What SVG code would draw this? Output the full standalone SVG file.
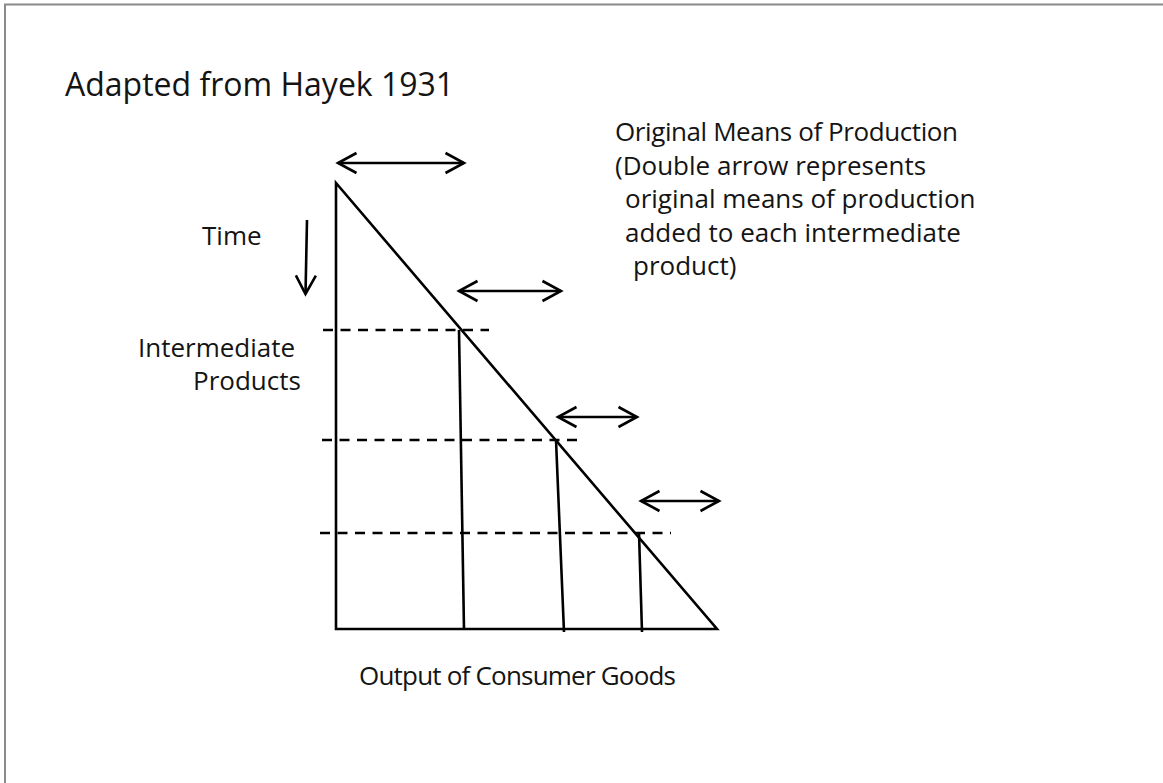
<svg xmlns="http://www.w3.org/2000/svg" width="1163" height="783" viewBox="0 0 1163 783">
  <style>
    .txt { font-family: "Open Sans", "Liberation Sans", sans-serif; fill: #141414; }
    .body { font-size: 26px; }
    .title { font-size: 32px; }
    .ln { stroke: #000; stroke-width: 2.6; fill: none; }
    .dash { stroke: #000; stroke-width: 2.4; fill: none; stroke-dasharray: 10 7.5; }
    .arw { stroke: #000; stroke-width: 2.6; fill: none; marker-start: url(#chev); marker-end: url(#chev); }
    .arw1 { stroke: #000; stroke-width: 2.6; fill: none; marker-end: url(#chev); }
  </style>
  <defs>
    <marker id="chev" markerUnits="userSpaceOnUse" markerWidth="26" markerHeight="26" viewBox="-22 -13 26 26" refX="0" refY="0" orient="auto-start-reverse">
      <path d="M-18.5,-10 L0,0 L-18.5,10" fill="none" stroke="#000" stroke-width="2.6"/>
    </marker>
  </defs>

  <rect x="0" y="0" width="1163" height="783" fill="#fff"/>
  <!-- page frame: top and left edges only -->
  <path d="M5,783 V4.5 H1163" fill="none" stroke="#8a8a8a" stroke-width="2"/>

  <g id="title">
    <text class="txt title" x="65" y="96">Adapted from Hayek 1931</text>
  </g>

  <g id="legend">
    <text class="txt body" x="615" y="141" textLength="343">Original Means of Production</text>
    <text class="txt body" x="615" y="174.5">(Double arrow represents</text>
    <text class="txt body" x="625" y="208">original means of production</text>
    <text class="txt body" x="625" y="241.5">added to each intermediate</text>
    <text class="txt body" x="633" y="275">product)</text>
  </g>

  <g id="time-label">
    <text class="txt body" x="202" y="245">Time</text>
  </g>

  <g id="intermediate-label">
    <text class="txt body" x="138" y="357">Intermediate</text>
    <text class="txt body" x="193" y="390">Products</text>
  </g>

  <g id="output-label">
    <text class="txt body" x="359" y="685" textLength="317">Output of Consumer Goods</text>
  </g>

  <!-- production triangle with stage boundaries -->
  <g id="triangle">
    <path class="ln" d="M336,183 V629 H717 Z" stroke-linejoin="miter"/>
    <line class="ln" x1="459" y1="330" x2="464" y2="630"/>
    <line class="ln" x1="556" y1="440" x2="564" y2="632"/>
    <line class="ln" x1="639" y1="533" x2="642" y2="632"/>
  </g>

  <g id="stage-levels">
    <line class="dash" x1="323" y1="330" x2="489" y2="330"/>
    <line class="dash" x1="322" y1="440" x2="579" y2="440"/>
    <line class="dash" x1="320" y1="533" x2="671" y2="533"/>
  </g>

  <g id="connectors">
    <line class="arw" x1="338" y1="163" x2="464" y2="163"/>
    <line class="arw" x1="459" y1="291" x2="561" y2="291"/>
    <line class="arw" x1="558" y1="417" x2="637" y2="417"/>
    <line class="arw" x1="641" y1="501" x2="719" y2="501"/>
    <line class="arw1" x1="307" y1="220" x2="305.5" y2="294"/>
  </g>
</svg>
